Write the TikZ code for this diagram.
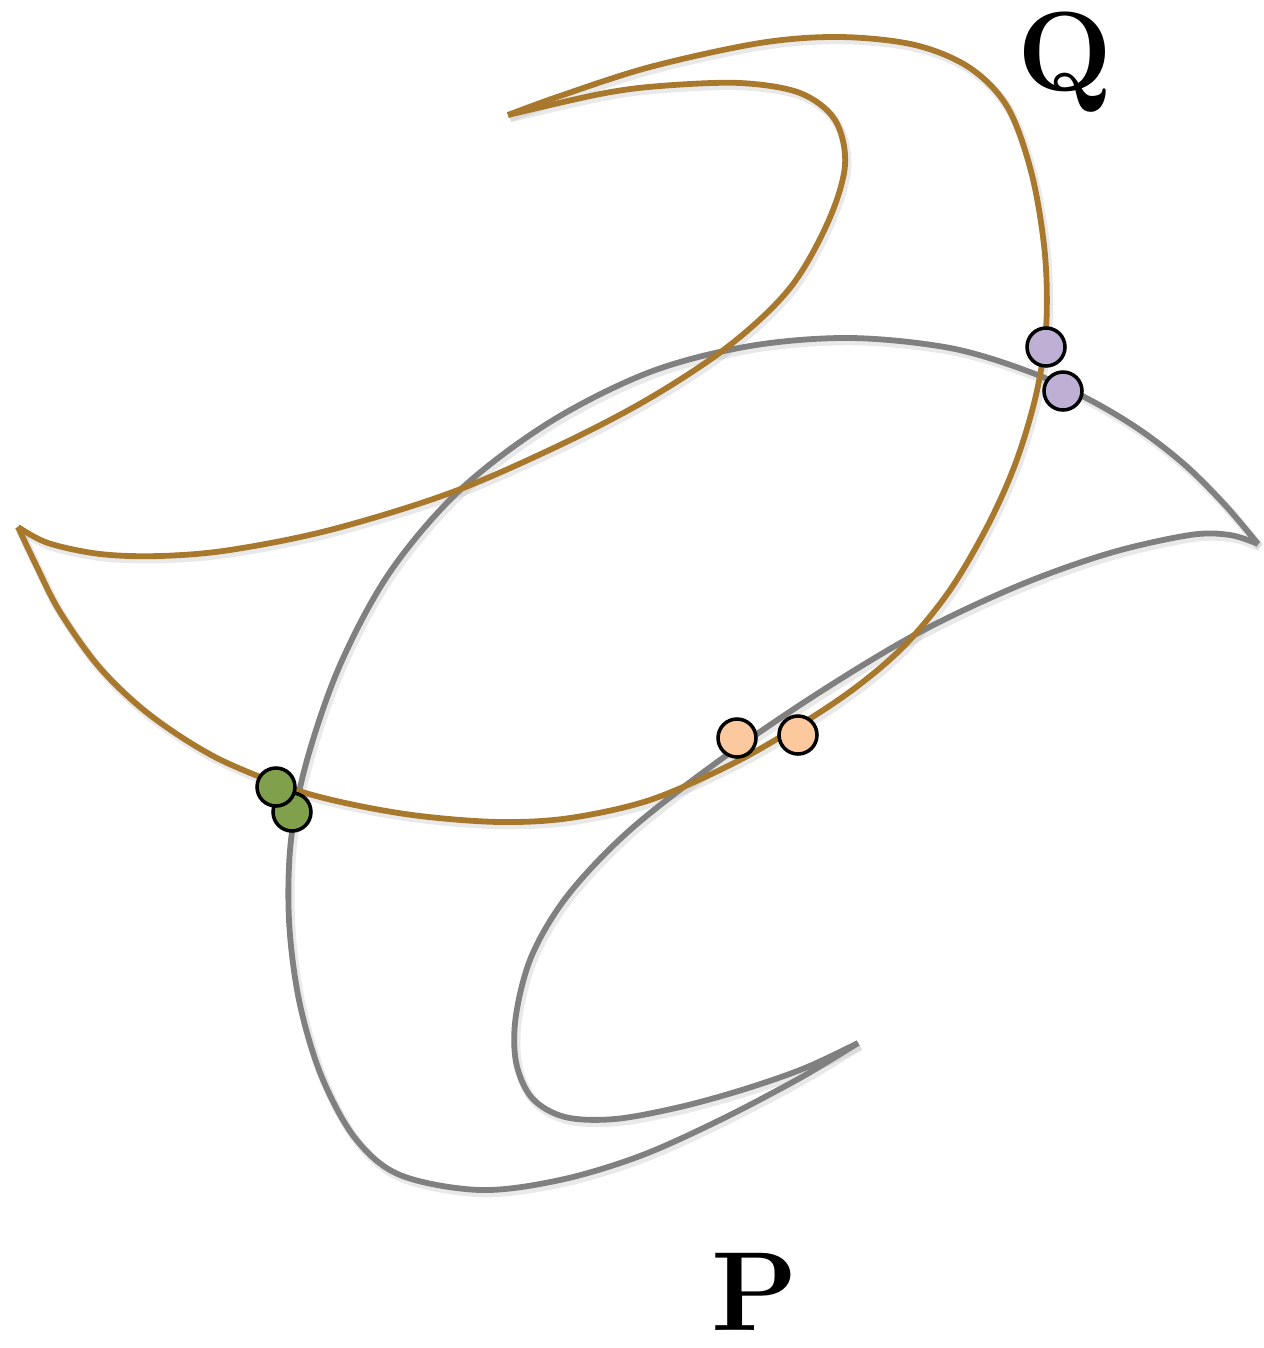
\documentclass[tikz,border=0pt]{standalone}
\usetikzlibrary{calc}
\definecolor{qbrown}{RGB}{168,121,44}
\definecolor{pgray}{RGB}{128,128,128}
\definecolor{dgreen}{RGB}{128,160,75}
\definecolor{dpeach}{RGB}{252,200,158}
\definecolor{dpurple}{RGB}{190,175,212}
\newlength{\pxunit}
\setlength{\pxunit}{0.01cm}
\tikzset{
  curveline/.style={line width=1.65pt, line join=round},
  shadowline/.style={line width=2.4pt, draw=black!25, opacity=0.35, line join=round},
  dot/.style={circle, draw=black, line width=1pt, minimum size=38\pxunit, inner sep=0pt},
  lbl/.style={font=\fontsize{32}{36}\selectfont\bfseries, inner sep=0pt}
}
\begin{document}
\begin{tikzpicture}[x=0.01cm, y=-0.01cm]
\useasboundingbox (0,0) rectangle (1264,1348);
% gray curve P
\def\pA{(858,1043) (805,1068) (745,1089) (680,1107) (615,1119) (565,1117) (532,1098) (516,1062) (516,1015) (532,955) (568,895) (630,830) (720,760) (820,692) (920,632) (1020,585) (1110,553) (1190,535) (1230,535) (1258,544)}
\def\pB{(1258,544) (1225,505) (1185,465) (1140,430) (1090,400) (1030,372) (950,348) (850,338) (750,346) (650,372) (550,422) (460,490) (390,572) (340,665) (307,760) (291,840) (289,920) (299,1000) (321,1075) (355,1138) (400,1175) (480,1190) (560,1180) (640,1156) (720,1120) (800,1078) (858,1043)}
% brown curve Q
\def\qA{(508,115) (560,96) (650,67) (760,43) (840,37) (915,45) (970,68) (1008,108) (1032,175) (1045,255) (1046,330) (1036,395) (1016,462) (988,525) (950,590) (905,645) (855,688) (795,728) (730,765) (650,800) (570,818) (500,822) (420,816) (350,804) (290,788) (215,757) (150,715) (100,668) (60,612) (36,565) (18,527)}
\def\qB{(18,527) (48,543) (100,554) (160,556) (230,550) (330,530) (450,493) (560,445) (650,398) (730,345) (790,288) (828,222) (845,165) (835,120) (800,93) (740,83) (660,86) (600,94) (508,115)}
% shadows
\begin{scope}[shift={(2,3)}]
\draw[shadowline] plot[smooth, tension=0.55] coordinates {\pA};
\draw[shadowline] plot[smooth, tension=0.55] coordinates {\pB};
\draw[shadowline] plot[smooth, tension=0.55] coordinates {\qA};
\draw[shadowline] plot[smooth, tension=0.55] coordinates {\qB};
\end{scope}
\draw[curveline, pgray] plot[smooth, tension=0.55] coordinates {\pA};
\draw[curveline, pgray] plot[smooth, tension=0.55] coordinates {\pB};
\draw[curveline, qbrown] plot[smooth, tension=0.55] coordinates {\qA};
\draw[curveline, qbrown] plot[smooth, tension=0.55] coordinates {\qB};
% dots
\node[dot, fill=dgreen] (g2) at (292,812) {};
\node[dot, fill=dgreen] (g1) at (276,787) {};
\node[dot, fill=dpeach] (o1) at (737,738) {};
\node[dot, fill=dpeach] (o2) at (798,735) {};
\node[dot, fill=dpurple] (v2) at (1063,391) {};
\node[dot, fill=dpurple] (v1) at (1046,347) {};
% labels
\node[lbl] (Q) at (1065,62) {Q};
\node[lbl] (P) at (755,1292) {P};
\end{tikzpicture}
\end{document}
